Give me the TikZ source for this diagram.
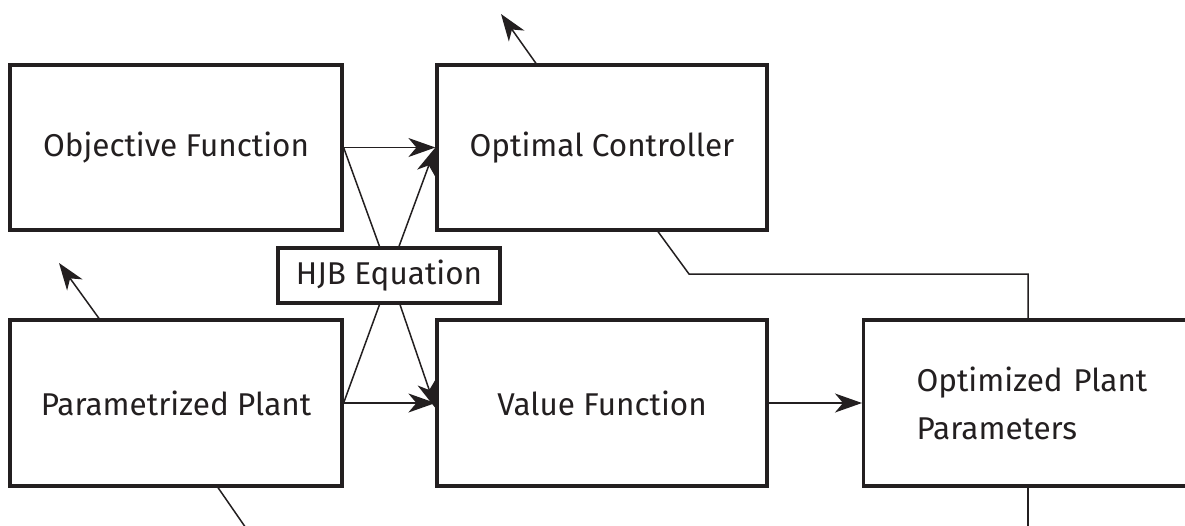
\documentclass[tikz,border=0pt]{standalone}
\usepackage{fontspec}
\setmainfont{Fira Sans}
\usetikzlibrary{arrows.meta}
\definecolor{ink}{HTML}{231F20}
\tikzset{
  box/.style={draw=ink, line width=3.2pt, rectangle, inner sep=0pt, text=ink, font=\fontsize{31.5}{48}\selectfont},
  conn/.style={draw=ink, line width=1.5pt},
  arr/.style={conn, -{Stealth[length=27pt, width=19pt, inset=8pt]}},
}
\begin{document}
\begin{tikzpicture}[x=1pt, y=-1pt]
\useasboundingbox (0,0) rectangle (1185,525);
\clip (0,0) rectangle (1185,525);
\fill[white] (0,0) rectangle (1185,525);
% boxes
\node[box, minimum width=332pt, minimum height=165pt] (obj) at (176,147.5) {Objective Function};
\node[box, minimum width=330pt, minimum height=165pt] (oc) at (602,147.5) {Optimal Controller};
\node[box, minimum width=332pt, minimum height=166pt] (pp) at (176,403) {Parametrized Plant};
\node[box, minimum width=330pt, minimum height=166pt] (vf) at (602,403) {Value Function};
\node[box, minimum width=400pt, minimum height=166pt, anchor=west, align=left, text width=346pt] (opt) at (862,403) {\hspace*{26pt}Optimized Plant\\\hspace*{26pt}Parameters};
\node[box, minimum width=222pt, minimum height=55pt] (hjb) at (389,275.5) {HJB Equation};
% free ends
\coordinate (ocup) at (501,14);
\coordinate (ppup) at (59,263);
\coordinate (ppdown) at (248,531);
\coordinate (k1) at (689,274);
\coordinate (k2) at (1028,274);
\coordinate (optdown) at (1028,530);
% connectors
\draw[arr] (obj.east) -- (oc.west);
\draw[conn] (obj.east) -- ([xshift=-9.5pt]hjb.north);
\draw[arr] ([xshift=10pt]hjb.north) -- (oc.west);
\draw[arr] (pp.east) -- (vf.west);
\draw[conn] (pp.east) -- ([xshift=-9.5pt]hjb.south);
\draw[arr] ([xshift=11pt]hjb.south) -- ([yshift=-5pt]vf.west);
\draw[arr] (vf.east) -- (opt.west);
\draw[conn] ([xshift=56pt]oc.south) -- (k1) -- (k2) -- (k2 |- opt.north);
\draw[conn] (k2 |- opt.south) -- (optdown);
\draw[arr] ([xshift=-66pt]oc.north) -- (ocup);
\draw[arr] ([xshift=-77pt]pp.north) -- (ppup);
\draw[conn] ([xshift=42pt]pp.south) -- (ppdown);
\end{tikzpicture}
\end{document}
